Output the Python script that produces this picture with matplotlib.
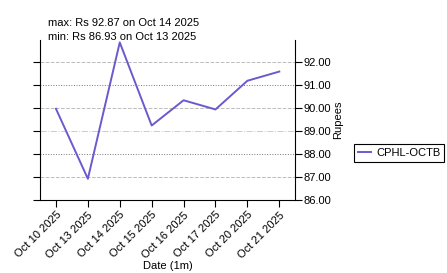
import matplotlib
matplotlib.use("Agg")
import matplotlib.pyplot as plt

plt.rcParams["font.family"] = ["Liberation Sans", "DejaVu Sans"]

# 日付と価格
dates = ["Oct 10 2025", "Oct 13 2025", "Oct 14 2025", "Oct 15 2025",
         "Oct 16 2025", "Oct 17 2025", "Oct 20 2025", "Oct 21 2025"]
prices = [89.98, 86.93, 92.87, 89.25, 90.35, 89.95, 91.2, 91.6]
yticks = [86, 87, 88, 89, 90, 91, 92]
series_name = "CPHL-OCTB"

fig = plt.figure(figsize=(4.47, 2.73), dpi=100)
ax = fig.add_axes([0.0895, 0.267, 0.571, 0.586])

x = list(range(len(dates)))
ax.plot(x, prices, color="#6a5acd", lw=1.4, label=series_name)

ax.set_xlim(-0.5, 7.5)
ax.set_ylim(86, 92.97)
ax.set_xticks(x)
ax.set_xticklabels(dates, rotation=45, ha="right", rotation_mode="anchor", fontsize=8)
ax.set_yticks(yticks)
ax.set_yticklabels([f"{v:.2f}" for v in yticks], fontsize=8)
ax.tick_params(axis="y", left=True, right=True, labelleft=False, labelright=True,
               length=5, pad=1)
ax.tick_params(axis="x", length=5, pad=2)
ax.spines["top"].set_visible(False)

# グリッド線（線種が交互）86から順に
ax.yaxis.grid(True)
styles = [("--", "#bbbbbb"), ("--", "#bbbbbb"), (":", "#777777"), ("-.", "#cccccc"),
          ("--", "#bbbbbb"), (":", "#777777"), ("--", "#bbbbbb")]
for gl, (ls, c) in zip(ax.get_ygridlines(), styles):
    gl.set_linestyle(ls)
    gl.set_color(c)
    gl.set_linewidth(0.7)

ax.set_xlabel("Date (1m)", fontsize=8, labelpad=1)
ax.yaxis.set_label_position("right")
ax.set_ylabel("Rupees", fontsize=8, labelpad=1)

imax = prices.index(max(prices))
imin = prices.index(min(prices))
fig.text(0.107, 0.915, f"max: Rs {prices[imax]:.2f} on {dates[imax]}", fontsize=8, va="center")
fig.text(0.107, 0.866, f"min: Rs {prices[imin]:.2f} on {dates[imin]}", fontsize=8, va="center")

leg = fig.legend(loc="center left", bbox_to_anchor=(0.78, 0.44), fontsize=8,
                 fancybox=False, edgecolor="black", framealpha=1,
                 handlelength=1.2, handletextpad=0.4, borderpad=0.35)
leg.get_frame().set_linewidth(0.8)

plt.savefig("out.png", dpi=100)
